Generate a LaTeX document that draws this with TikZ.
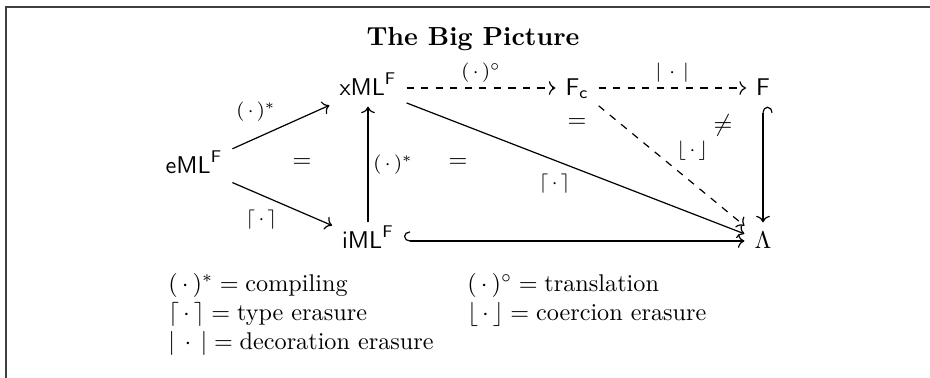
\documentclass[tikz,border=0pt]{standalone}
\usetikzlibrary{arrows.meta}

\begin{document}
\begin{tikzpicture}[x=0.01453cm, y=-0.01453cm,
    obj/.style={inner xsep=4pt, inner ysep=1.5pt, text height=9pt, text depth=3pt},
    lbl/.style={font=\footnotesize, inner sep=2pt},
    key/.style={anchor=base west, inner sep=0pt},
    arr/.style={->, line width=0.5pt},
    hk/.style={{Hooks[right,length=2.5pt,width=8pt]}->, line width=0.5pt}]
  \useasboundingbox (0,0) rectangle (930,377);
  \draw[line width=0.8pt, black!75] (6,390) -- (6,7) -- (940,7);
  \node[anchor=base, font=\fontsize{10.8}{13}\selectfont\bfseries] (title) at (473,45) {The Big Picture};
  % objects
  \node[obj] (eml) at (194,166) {$\mathsf{eML}^{\mathsf{F}}$};
  \node[obj] (xml) at (368,88)  {$\mathsf{xML}^{\mathsf{F}}$};
  \node[obj] (iml) at (368,241) {$\mathsf{iML}^{\mathsf{F}}$};
  \node[obj] (fc)  at (577,88)  {$\mathsf{F}_{\mathsf{c}}$};
  \node[obj] (f)   at (763,88)  {$\mathsf{F}$};
  \node[obj] (lam) at (763,241) {$\Lambda$};
  % arrows
  \draw[arr] (eml) -- node[lbl, above left] {$(\,\cdot\,)^*$} (xml);
  \draw[arr] (eml) -- node[lbl, below left] {$\lceil\,\cdot\,\rceil$} (iml);
  \draw[arr] (iml) -- node[lbl, right] {$(\,\cdot\,)^*$} (xml);
  \draw[arr] (xml) -- node[lbl, below left] {$\lceil\,\cdot\,\rceil$} (lam);
  \draw[arr, dashed] (xml) -- node[lbl, above] {$(\,\cdot\,)^\circ$} (fc);
  \draw[arr, dashed] (fc) -- node[lbl, above] {$|\,\cdot\,|$} (f);
  \draw[arr, dashed] (fc) -- node[lbl, above right] {$\lfloor\,\cdot\,\rfloor$} (lam);
  \draw[hk] (iml) -- (lam);
  \draw[hk] (f) -- (lam);
  % commuting signs
  \node (eq1) at (302,163) {$=$};
  \node (eq2) at (458,163) {$=$};
  \node (eq3) at (577,123) {$=$};
  \node (neq) at (723,125) {$\neq$};
  % legend
  \node[key] (key1) at (168,291) {$(\,\cdot\,)^* = \mbox{compiling}$};
  \node[key] (key2) at (168,320) {$\lceil\,\cdot\,\rceil = \mbox{type erasure}$};
  \node[key] (key3) at (168,349) {$|\,\cdot\,| = \mbox{decoration erasure}$};
  \node[key] (key4) at (467,291) {$(\,\cdot\,)^\circ = \mbox{translation}$};
  \node[key] (key5) at (467,320) {$\lfloor\,\cdot\,\rfloor = \mbox{coercion erasure}$};
\end{tikzpicture}
\end{document}
